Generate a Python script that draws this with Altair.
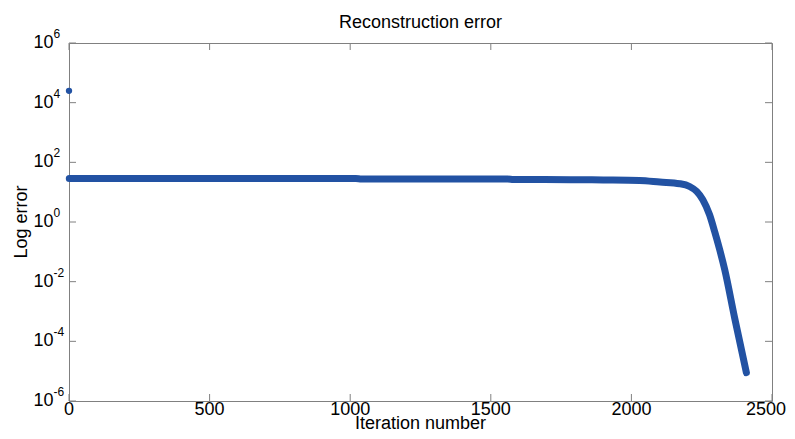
import altair as alt
import pandas as pd

# ---- data ----
first_iter = [0]
first_error = [2.5e4]

iters = [1, 300, 700, 1020, 1040, 1560, 1580, 1800, 1900, 2029, 2101, 2172,
         2207, 2232, 2254, 2278, 2296, 2314, 2332, 2367, 2409]
errors = [28.9, 28.9, 28.8, 28.5, 27.5, 27.5, 26.6, 26.2, 25.7, 24.8, 21.9, 19.2,
          15.5, 10.6, 5.6, 1.75, 0.48, 0.118, 0.025, 6.2e-4, 8.9e-6]

x_ticks = [0, 500, 1000, 1500, 2000, 2500]
x_tick_labels = ["0", "500", "1000", "1500", "2000", "2500"]
y_tick_values = [1e6, 1e4, 1e2, 1, 1e-2, 1e-4, 1e-6]
y_exp_labels = ["6", "4", "2", "0", "-2", "-4", "-6"]

title_text = ["Reconstruction error"]
x_title = ["Iteration number"]
y_title = ["Log error"]

# ---- style ----
W, H = 703, 358
FONT = "Liberation Sans"
BLUE = "#2252a3"
GRAY = "#808080"
TICK = 7

xscale = alt.Scale(domain=[0, 2500], nice=False, zero=False)
yscale = alt.Scale(type="log", domain=[1e-6, 1e6], nice=False)

line_df = pd.DataFrame({"iter": iters, "err": errors})
first_df = pd.DataFrame({"iter": first_iter, "err": first_error})
xt_df = pd.DataFrame({"x": x_ticks, "lab": x_tick_labels})
xl_mid_df = pd.DataFrame({"x": x_ticks[:-1], "lab": x_tick_labels[:-1]})
xl_end_df = pd.DataFrame({"x": x_ticks[-1:], "lab": x_tick_labels[-1:]})
yt_df = pd.DataFrame({"y": y_tick_values, "exp": y_exp_labels,
                      "base": ["10"] * len(y_tick_values)})

line = alt.Chart(line_df).mark_line(
    color=BLUE, strokeWidth=7, strokeCap="round", strokeJoin="round",
    interpolate="monotone"
).encode(
    x=alt.X("iter:Q", scale=xscale, axis=None),
    y=alt.Y("err:Q", scale=yscale, axis=None),
)

first = alt.Chart(first_df).mark_point(
    filled=True, color=BLUE, size=40, opacity=1, shape="circle"
).encode(
    x=alt.X("iter:Q", scale=xscale, axis=None),
    y=alt.Y("err:Q", scale=yscale, axis=None),
)

xt_bottom = alt.Chart(xt_df).mark_rule(color=GRAY, strokeWidth=1).encode(
    x=alt.X("x:Q", scale=xscale, axis=None), y=alt.value(H), y2=alt.value(H - TICK)
)
xt_top = alt.Chart(xt_df).mark_rule(color=GRAY, strokeWidth=1).encode(
    x=alt.X("x:Q", scale=xscale, axis=None), y=alt.value(0), y2=alt.value(TICK)
)
yt_left = alt.Chart(yt_df).mark_rule(color=GRAY, strokeWidth=1).encode(
    y=alt.Y("y:Q", scale=yscale, axis=None), x=alt.value(0), x2=alt.value(TICK)
)
yt_right = alt.Chart(yt_df).mark_rule(color=GRAY, strokeWidth=1).encode(
    y=alt.Y("y:Q", scale=yscale, axis=None), x=alt.value(W), x2=alt.value(W - TICK)
)

xlab_mid = alt.Chart(xl_mid_df).mark_text(
    font=FONT, fontSize=18, color="black", align="center", baseline="alphabetic"
).encode(
    x=alt.X("x:Q", scale=xscale, axis=None), y=alt.value(H + 14), text="lab:N"
)
xlab_end = alt.Chart(xl_end_df).mark_text(
    font=FONT, fontSize=18, color="black", align="right", baseline="alphabetic", dx=14
).encode(
    x=alt.X("x:Q", scale=xscale, axis=None), y=alt.value(H + 14), text="lab:N"
)

ylab_base = alt.Chart(yt_df).mark_text(
    font=FONT, fontSize=18, color="black", align="right", baseline="middle"
).encode(
    y=alt.Y("y:Q", scale=yscale, axis=None), x=alt.value(-15.5), text="base:N"
)
ylab_exp = alt.Chart(yt_df).mark_text(
    font=FONT, fontSize=12, color="black", align="left", baseline="middle", dy=-9
).encode(
    y=alt.Y("y:Q", scale=yscale, axis=None), x=alt.value(-15.5), text="exp:N"
)

title_mark = alt.Chart(pd.DataFrame({"t": title_text})).mark_text(
    font=FONT, fontSize=18, color="black", align="center", baseline="alphabetic"
).encode(x=alt.value(W / 2), y=alt.value(-15), text="t:N")

xtitle_mark = alt.Chart(pd.DataFrame({"t": x_title})).mark_text(
    font=FONT, fontSize=18, color="black", align="center", baseline="alphabetic"
).encode(x=alt.value(W / 2), y=alt.value(H + 28), text="t:N")

ytitle_mark = alt.Chart(pd.DataFrame({"t": y_title})).mark_text(
    font=FONT, fontSize=18, color="black", align="center", baseline="alphabetic",
    angle=270
).encode(x=alt.value(-42), y=alt.value(H / 2), text="t:N")

chart = alt.layer(
    xt_bottom, xt_top, yt_left, yt_right, line, first,
    xlab_mid, xlab_end, ylab_base, ylab_exp, title_mark, xtitle_mark, ytitle_mark
).properties(
    width=W, height=H,
    autosize=alt.AutoSizeParams(type="none"),
    padding={"left": 61, "top": 35, "right": 15, "bottom": 30},
).configure(
    background="white"
).configure_view(
    stroke=GRAY, strokeWidth=1
)

chart.save("out.html", embed_options={"renderer": "svg", "actions": False})
